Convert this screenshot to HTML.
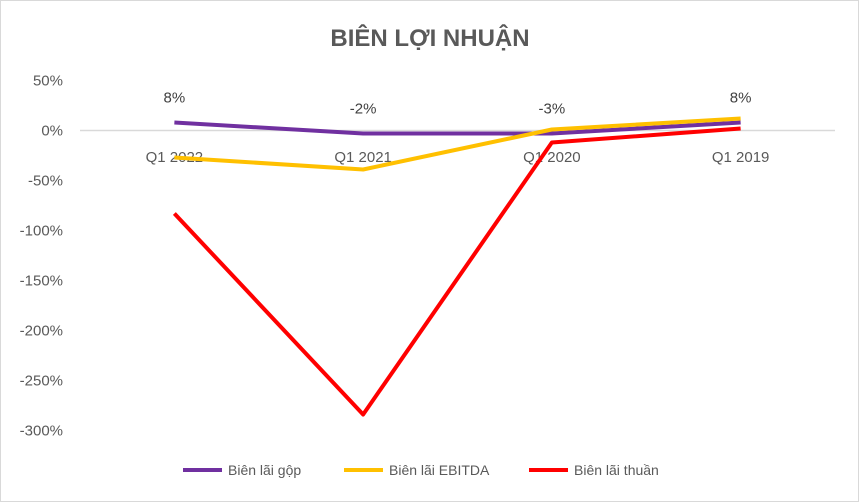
<!DOCTYPE html>
<html><head><meta charset="utf-8"><style>
body{margin:0;background:#fff;font-family:"Liberation Sans",sans-serif;}
svg{display:block}
</style></head><body>
<svg width="859" height="502" id="c">
<rect x="0.5" y="0.5" width="858" height="501" fill="#fff" stroke="#d9d9d9"/>
<text x="430" y="46" text-anchor="middle" font-size="24" font-weight="bold" fill="#595959">BIÊN LỢI NHUẬN</text>
<g id="axes"></g><g id="series"></g>
<g font-size="14" fill="#595959">
<line x1="183" y1="470" x2="222" y2="470" stroke="#7030a0" stroke-width="4"/>
<text x="228" y="475">Biên lãi gộp</text>
<line x1="344" y1="470" x2="383" y2="470" stroke="#ffc000" stroke-width="4"/>
<text x="389" y="475">Biên lãi EBITDA</text>
<line x1="529" y1="470" x2="568" y2="470" stroke="#ff0000" stroke-width="4"/>
<text x="574" y="475">Biên lãi thuần</text>
</g>
</svg>
<script>
const categories=["Q1 2022","Q1 2021","Q1 2020","Q1 2019"];
const grossMargin=[8,-3,-3,8];
const grossLabels=["8%","-2%","-3%","8%"];
const ebitdaMargin=[-27,-39,1,12];
const netMargin=[-83,-284,-12,2];
const yTicks=[50,0,-50,-100,-150,-200,-250,-300];
const NS="http://www.w3.org/2000/svg";
const left=80,width=755,y0=130.5,ppu=1;
const x=i=>left+width/categories.length*(i+0.5);
const y=v=>y0-v*ppu;
function mk(t,a,p){const e=document.createElementNS(NS,t);for(const k in a)e.setAttribute(k,a[k]);p.appendChild(e);return e;}
const ax=document.getElementById('axes'),se=document.getElementById('series');
yTicks.forEach(v=>{const t=mk('text',{x:63,y:y(v)+5,'text-anchor':'end','font-size':15,fill:'#595959'},ax);t.textContent=v+'%';

});
const zl=mk('line',{x1:left,x2:left+width,y1:y(0),y2:y(0),stroke:'#d9d9d9','stroke-width':1.5},ax);


categories.forEach((c,i)=>{const t=mk('text',{x:x(i),y:162,'text-anchor':'middle','font-size':15,fill:'#595959'},ax);t.textContent=c;

});
[[grossMargin,'#7030a0','gross-margin-line'],[ebitdaMargin,'#ffc000','ebitda-margin-line'],[netMargin,'#ff0000','net-margin-line']].forEach(([d,col,n])=>{
const p=mk('polyline',{points:d.map((v,i)=>x(i)+','+y(v)).join(' '),fill:'none',stroke:col,'stroke-width':4,'stroke-linejoin':'round'},se);

});
grossLabels.forEach((l,i)=>{const t=mk('text',{x:x(i),y:y(grossMargin[i])-20,'text-anchor':'middle','font-size':15,fill:'#404040'},se);t.textContent=l;

});
</script>
</body></html>
